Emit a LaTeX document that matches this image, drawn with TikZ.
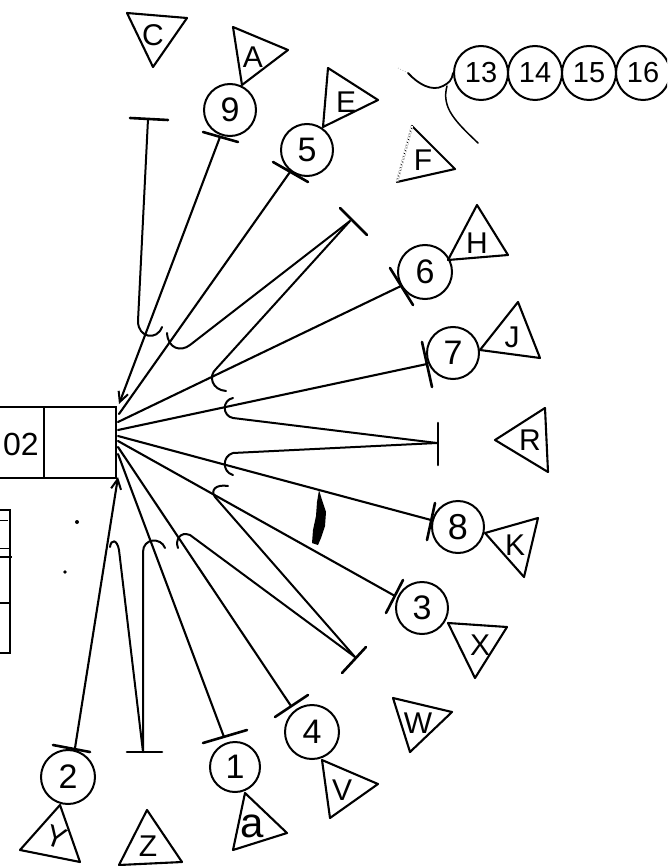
\documentclass[tikz,border=0pt]{standalone}
\usepackage{fontspec}
\setsansfont{Liberation Sans}
\usetikzlibrary{arrows.meta}
\begin{document}
\begin{tikzpicture}[x=1pt,y=-1pt,
  ln/.style={line width=2.1pt, line cap=round, line join=round},
  barln/.style={line width=2.6pt, line cap=round},
  hookln/.style={line width=2pt, line cap=round},
  circ/.style={circle, draw, line width=2pt, minimum size=52pt, inner sep=0pt,
               font=\sffamily\fontsize{34}{34}\selectfont},
  tri/.style={line width=2.1pt, line join=round},
  lbl/.style={font=\sffamily\fontsize{30}{30}\selectfont, inner sep=0pt},
  tip/.style={-{Straight Barb[length=10pt,width=10pt,line width=2pt]}}
]
\clip (0,0) rectangle (667,866);
\fill[white] (0,0) rectangle (667,866);

% main box (partly off the left edge)
\node[draw, line width=2.2pt, minimum width=127pt, minimum height=71pt, inner sep=0pt,
      anchor=north east] (box) at (117,406) {};
\draw[line width=1.8pt] (44,406) -- (44,477);
\node[lbl, anchor=east, font=\sffamily\fontsize{32}{32}\selectfont] (boxtxt) at (39,444) {02};

% partial table below the box
\draw[line width=2.2pt] (-5,510) -- (10,510) -- (10,653) -- (-5,653);
\draw[line width=0.9pt] (-5,520) -- (8,520);
\draw[line width=0.9pt] (-5,548) -- (9,548);
\draw[line width=2.2pt] (-5,557) -- (12,557);
\draw[line width=2.2pt] (-5,603) -- (10,603);

% circles
\node[circ] (c9) at (230,110) {9};
\node[circ] (c5) at (307,150) {5};
\node[circ, minimum size=54pt] (c6) at (425,272) {6};
\node[circ] (c7) at (453,353) {7};
\node[circ, font=\sffamily\fontsize{36}{36}\selectfont] (c8) at (458,527) {8};
\node[circ] (c3) at (422,608) {3};
\node[circ, minimum size=54pt] (c4) at (312,732) {4};
\node[circ, minimum size=50pt] (c1) at (235,767) {1};
\node[circ, minimum size=54pt] (c2) at (68,777) {2};
\node[circ, minimum size=54pt, font=\sffamily\fontsize{29}{29}\selectfont] (c13) at (481,73) {13};
\node[circ, minimum size=54pt, font=\sffamily\fontsize{29}{29}\selectfont] (c14) at (535,73) {14};
\node[circ, minimum size=54pt, font=\sffamily\fontsize{29}{29}\selectfont] (c15) at (589,73) {15};
\node[circ, minimum size=54pt, font=\sffamily\fontsize{29}{29}\selectfont] (c16) at (643,73) {16};

% start points on the box edge
\coordinate (s9) at (119,404);
\coordinate (s5) at (119,414);
\coordinate (s6) at (118,422);
\coordinate (s7) at (118,430);
\coordinate (s8) at (118,436);
\coordinate (s3) at (118,441);
\coordinate (s4) at (118,447);
\coordinate (s1) at (118,454);
\coordinate (s2) at (118,477);

% bar ends before circles
\coordinate (t9) at (220,137);
\coordinate (t5) at (290,172);
\coordinate (t6) at (401,286);
\coordinate (t7) at (427,364);
\coordinate (t8) at (431,520);
\coordinate (t3) at (395,596);
\coordinate (t4) at (291,706);
\coordinate (t1) at (224,737);
\coordinate (t2) at (75,748);

\draw[barln] (203,132) -- (238,142);
\draw[barln] (273,162) -- (308,182);
\draw[barln] (390,268) -- (413,305);
\draw[barln] (422,342) -- (432,387);
\draw[barln] (435,503) -- (427,540);
\draw[barln] (403,580) -- (386,613);
\draw[barln] (308,695) -- (275,717);
\draw[barln] (247,730) -- (203,743);
\draw[barln] (53,745) -- (90,752);

% fan lines
\draw[ln, tip] (t9) -- (s9);
\draw[ln] (t5) -- (s5);
\draw[ln] (t6) -- (s6);
\draw[ln] (t7) -- (s7);
\draw[ln] (t8) -- (s8);
\draw[ln] (t3) -- (s3);
\draw[ln] (t4) -- (s4);
\draw[ln] (t1) -- (s1);
\draw[ln, tip] (t2) -- (s2);

% free T ends
\coordinate (jc) at (148,119);
\coordinate (ju) at (350,221);
\coordinate (jr) at (437,443);
\coordinate (jl) at (355,657);
\coordinate (jz) at (143,752);
\draw[barln] (130,118) -- (168,120);
\draw[barln] (340,208) -- (367,235);
\draw[barln] (438,423) -- (438,465);
\draw[barln] (342,673) -- (366,647);
\draw[barln] (127,752) -- (162,752);

% return lines with hooks
\draw[hookln] (jc) -- (138,321) .. controls (138,338) and (157,341) .. (162,327);
\draw[hookln] (ju) -- (190,345) .. controls (181,352) and (168,349) .. (167,333);
\draw[hookln] (ju) -- (216,369) .. controls (208,376) and (212,390) .. (226,391);
\draw[hookln] (jr) -- (233,418) .. controls (222,416) and (222,400) .. (233,398);
\draw[hookln] (jr) -- (233,453) .. controls (222,456) and (222,472) .. (233,475);
\draw[hookln] (jl) -- (215,497) .. controls (210,490) and (216,484) .. (228,486);
\draw[hookln] (jl) -- (190,535) .. controls (180,531) and (175,540) .. (178,548);
\draw[hookln] (jz) -- (143,552) .. controls (143,538) and (161,537) .. (165,548);
\draw[hookln] (jz) -- (119,550) .. controls (117,539) and (111,539) .. (110,547);

% triangles with labels
\draw[tri] (127,13) -- (187,18) -- (153,67) -- cycle;
\node[lbl] (lC) at (153,35) {C};
\draw[tri] (233,27) -- (288,50) -- (242,85) -- cycle;
\node[lbl] (lA) at (253,57) {A};
\draw[tri] (328,68) -- (378,100) -- (323,127) -- cycle;
\node[lbl] (lE) at (346,102) {E};
\draw[tri] (397,182) -- (412,126) -- (455,169) -- cycle;
\draw[line width=2.3pt, white] (397,182) -- (412,126);
\draw[line width=0.9pt, dotted] (397,182) -- (412,126);
\node[lbl] (lF) at (423,160) {F};
\draw[tri] (477,205) -- (508,255) -- (448,260) -- cycle;
\node[lbl] (lH) at (477,243) {H};
\draw[tri] (518,302) -- (540,358) -- (480,350) -- cycle;
\node[lbl] (lJ) at (512,337) {J};
\draw[tri] (545,408) -- (548,472) -- (495,440) -- cycle;
\node[lbl] (lR) at (530,440) {R};
\draw[tri] (485,533) -- (538,518) -- (524,577) -- cycle;
\node[lbl] (lK) at (515,545) {K};
\draw[tri] (448,623) -- (507,627) -- (475,678) -- cycle;
\node[lbl] (lX) at (480,645) {X};
\draw[tri] (393,698) -- (452,712) -- (410,752) -- cycle;
\node[lbl] (lW) at (418,723) {W};
\draw[tri] (322,760) -- (378,784) -- (330,818) -- cycle;
\node[lbl] (lV) at (342,790) {V};
\draw[tri] (245,793) -- (287,833) -- (233,850) -- cycle;
\node[lbl, font=\sffamily\fontsize{42}{42}\selectfont] (la) at (252,826) {a};
\draw[tri] (147,810) -- (182,862) -- (119,865) -- cycle;
\node[lbl] (lZ) at (148,846) {Z};
\draw[tri] (60,805) -- (80,862) -- (20,850) -- cycle;
\node[lbl, rotate=-20] (lY) at (56,837) {Y};

% curly lines at circle 13
\draw[line width=0.6pt, dotted, gray] (398,68) -- (408,73);
\draw[line width=1.8pt, line cap=round] (408,73) .. controls (418,84) and (432,92) .. (443,86)
   .. controls (449,83) and (452,80) .. (c13.west);
\draw[line width=1.5pt, line cap=round] (447,86) .. controls (441,108) and (456,122) .. (478,143);

% ink smudge and specks
\fill (319,490) -- (322,500) -- (326,512) -- (325,526) -- (321,538) -- (318,545)
   -- (312,543) -- (313,530) -- (316,516) -- (317,502) -- cycle;
\fill (77,522) circle (2);
\fill (65,572) circle (1.8);
\end{tikzpicture}
\end{document}
